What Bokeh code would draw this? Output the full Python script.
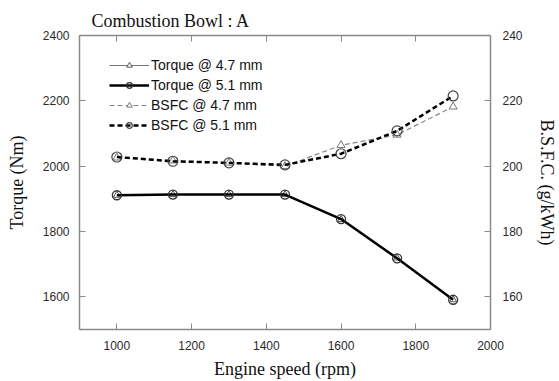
from bokeh.plotting import figure
from bokeh.models import Range1d, LinearAxis, FixedTicker, Legend, LegendItem
from bokeh.embed import file_html
from bokeh.resources import INLINE

speed = [1000, 1150, 1300, 1450, 1600, 1750, 1900]
torque_47 = [1911, 1913, 1913, 1913, 1837, 1719, 1591]
torque_51 = [1911, 1913, 1913, 1913, 1838, 1718, 1591]
bsfc_47 = [202.6, 201.7, 201.0, 200.0, 206.4, 209.6, 218.2]
bsfc_51 = [202.8, 201.5, 201.0, 200.4, 203.8, 210.8, 221.5]

x_ticks = [1000, 1200, 1400, 1600, 1800, 2000]
left_ticks = [1600, 1800, 2000, 2200, 2400]
right_ticks = [160, 180, 200, 220, 240]

p = figure(width=559, height=381, output_backend="svg", toolbar_location=None,
           x_range=Range1d(900, 2000), y_range=Range1d(1500, 2400),
           min_border_left=79, min_border_right=69, min_border_top=35, min_border_bottom=51)
p.extra_y_ranges = {"bsfc": Range1d(150, 240)}
p.xgrid.visible = False
p.ygrid.visible = False
p.outline_line_color = None
p.background_fill_color = "white"

p.title.text = "Combustion Bowl : A"
p.title.text_font = "Liberation Serif"
p.title.text_font_size = "18px"
p.title.text_font_style = "normal"
p.title.offset = 12
p.title.text_color = "#111111"

def style_axis(ax):
    ax.axis_line_color = "#8a8a8a"
    ax.axis_line_width = 1.5
    ax.major_tick_line_color = "#8a8a8a"
    ax.major_tick_in = 6
    ax.major_tick_out = 0
    ax.minor_tick_line_color = None
    ax.major_label_text_font = "Liberation Sans"
    ax.major_label_text_font_size = "12px"
    ax.major_label_text_color = "#2a2a2a"
    ax.axis_label_text_font = "Liberation Serif"
    ax.axis_label_text_font_size = "18px"
    ax.axis_label_text_font_style = "normal"
    ax.axis_label_text_color = "#111111"

style_axis(p.xaxis[0])
p.xaxis[0].ticker = FixedTicker(ticks=x_ticks)
p.xaxis[0].axis_label = "Engine speed (rpm)"
p.xaxis[0].major_label_standoff = 11
p.xaxis[0].axis_label_standoff = 6
style_axis(p.yaxis[0])
p.yaxis[0].ticker = FixedTicker(ticks=left_ticks)
p.yaxis[0].axis_label = "Torque (Nm)"
p.yaxis[0].major_label_standoff = 10
p.yaxis[0].axis_label_standoff = 13

right = LinearAxis(y_range_name="bsfc", ticker=FixedTicker(ticks=right_ticks),
                   axis_label="B.S.F.C. (g/kWh)")
style_axis(right)
right.major_label_standoff = 12
right.axis_label_standoff = 11
p.add_layout(right, "right")

top = LinearAxis(ticker=FixedTicker(ticks=x_ticks[:-1]))
style_axis(top)
top.major_label_overrides = {t: "" for t in x_ticks[:-1]}
top.major_label_standoff = 0
p.add_layout(top, "above")

l1 = p.line(speed, torque_47, line_color="#777777", line_width=1)
m1 = p.scatter(speed, torque_47, marker="triangle", size=7, fill_color="white",
               line_color="#555555", line_width=1)
l2 = p.line(speed, torque_51, line_color="black", line_width=2.5)
m2 = p.scatter(speed, torque_51, marker="circle", size=9, fill_color=None,
               line_color="#333333", line_width=1.3)
l3 = p.line(speed, bsfc_47, y_range_name="bsfc", line_color="#888888", line_width=1.2,
            line_dash="5 3")
m3 = p.scatter(speed, bsfc_47, y_range_name="bsfc", marker="triangle", size=8,
               fill_color="white", line_color="#777777", line_width=1)
l4 = p.line(speed, bsfc_51, y_range_name="bsfc", line_color="black", line_width=2.5,
            line_dash="5 3")
m4 = p.scatter(speed, bsfc_51, y_range_name="bsfc", marker="circle", size=10,
               fill_color=None, line_color="#444444", line_width=1.2)

legend = Legend(items=[
    LegendItem(label="Torque @ 4.7 mm", renderers=[l1, m1]),
    LegendItem(label="Torque @ 5.1 mm", renderers=[l2, m2]),
    LegendItem(label="BSFC @ 4.7 mm", renderers=[l3, m3]),
    LegendItem(label="BSFC @ 5.1 mm", renderers=[l4, m4]),
], location=(30, 196))
legend.border_line_color = None
legend.background_fill_alpha = 0
legend.label_text_font = "Liberation Sans"
legend.label_text_font_size = "14px"
legend.label_text_color = "#111111"
legend.glyph_width = 40
legend.glyph_height = 14
legend.spacing = 4
legend.label_standoff = 2
legend.padding = 4
p.add_layout(legend)

open("out.html", "w").write(file_html(p, INLINE))
